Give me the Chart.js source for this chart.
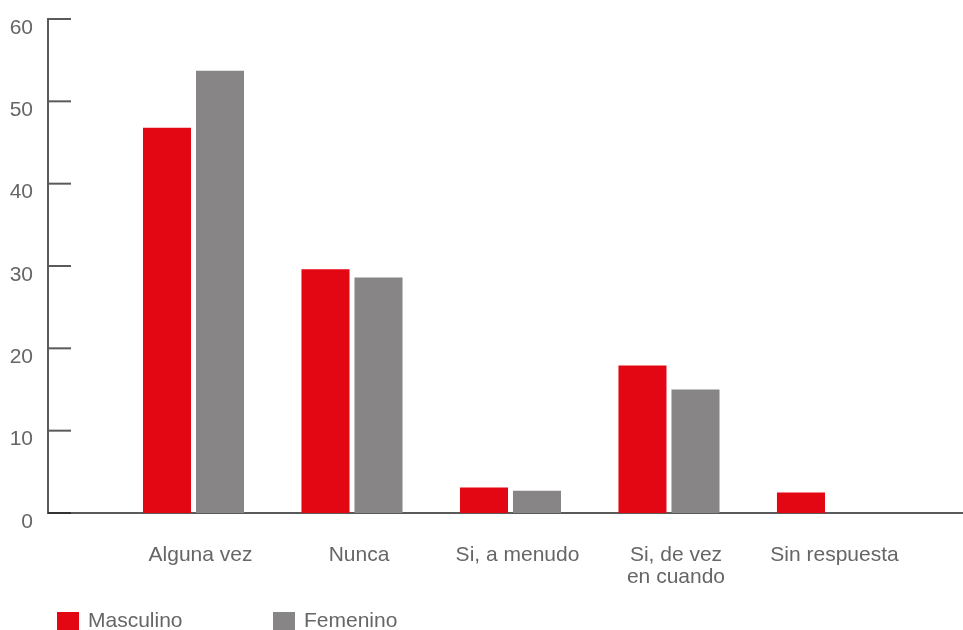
<!DOCTYPE html>
<html>
<head>
<meta charset="utf-8">
<script src="https://cdn.jsdelivr.net/npm/chart.js@4.4.1/dist/chart.umd.min.js"></script>
<style>
  html, body { margin: 0; padding: 0; background: #fff; overflow: hidden; }
  #wrap { position: relative; width: 963px; height: 630px; }
  #legend {
    position: absolute; left: 57px; top: 608px;
    display: flex;
    font: 21px 'Liberation Sans', Arial, sans-serif; color: #666;
  }
  .item { display: flex; align-items: flex-start; width: 216px; line-height: 23px; }
  .box { width: 22px; height: 22px; margin-top: 4px; margin-right: 9px; }
</style>
</head>
<body>
<div id="wrap">
  <canvas id="chart" width="963" height="630"></canvas>
  <div id="legend"></div>
</div>
<script>
  // Data
  const categories = ['Alguna vez', 'Nunca', 'Si, a menudo', ['Si, de vez', 'en cuando'], 'Sin respuesta'];
  const masculino = [46.8, 29.6, 3.1, 17.9, 2.5];
  const femenino = [53.7, 28.6, 2.7, 15.0, 0];
  const yTicks = [0, 10, 20, 30, 40, 50, 60];

  const FONT = "'Liberation Sans', Arial, sans-serif";
  const AXIS = '#5a5a5a';

  // short tick marks drawn inside the plot, off the y axis
  const innerTicks = {
    id: 'innerTicks',
    afterDraw(chart) {
      const { ctx, chartArea, scales: { y } } = chart;
      ctx.save();
      ctx.lineWidth = 2;
      y.ticks.forEach(t => {
        const py = y.getPixelForValue(t.value);
        ctx.strokeStyle = t.value === 0 ? '#333' : AXIS;
        ctx.beginPath();
        ctx.moveTo(chartArea.left, py);
        ctx.lineTo(chartArea.left + 23, py);
        ctx.stroke();
      });
      ctx.restore();
    }
  };

  const chart = new Chart(document.getElementById('chart'), {
    type: 'bar',
    data: {
      datasets: [
        {
          label: 'Masculino',
          data: masculino.map((v, i) => ({ x: i, y: v })),
          backgroundColor: '#e30613'
        },
        {
          label: 'Femenino',
          data: femenino.map((v, i) => ({ x: i, y: v })),
          backgroundColor: '#878586'
        }
      ]
    },
    options: {
      responsive: false,
      animation: false,
      devicePixelRatio: 1,
      categoryPercentage: 0.669,
      barPercentage: 0.906,
      layout: { padding: { top: 19, right: 0, left: 0, bottom: 0 } },
      scales: {
        x: {
          type: 'linear',
          offset: false,
          min: -0.918,
          max: 4.855,
          grid: { display: false, drawTicks: false, offset: false },
          border: { display: true, color: AXIS, width: 2 },
          afterFit: s => { s.height = 117; s.paddingLeft = 0; s.paddingRight = 0; },
          ticks: {
            stepSize: 1,
            includeBounds: false,
            autoSkip: false,
            maxRotation: 0,
            padding: 31,
            labelOffset: 7,
            color: '#666',
            font: { family: FONT, size: 21, lineHeight: 1.05 },
            callback: v => (Number.isInteger(v) && categories[v] !== undefined) ? categories[v] : ''
          }
        },
        y: {
          min: 0,
          max: 60,
          grid: { display: false, drawTicks: false },
          border: { display: true, color: AXIS, width: 2 },
          afterFit: s => { s.width = 48; s.paddingTop = 0; s.paddingBottom = 0; },
          afterBuildTicks: s => { s.ticks = yTicks.map(v => ({ value: v })); },
          ticks: {
            padding: 15,
            labelOffset: 9,
            color: '#666',
            font: { family: FONT, size: 21 }
          }
        }
      },
      plugins: {
        legend: { display: false },
        tooltip: { enabled: false }
      }
    },
    plugins: [innerTicks]
  });

  // HTML legend from the datasets
  const legend = document.getElementById('legend');
  chart.data.datasets.forEach(ds => {
    const item = document.createElement('div');
    item.className = 'item';
    const box = document.createElement('span');
    box.className = 'box';
    box.style.background = ds.backgroundColor;
    const txt = document.createElement('span');
    txt.textContent = ds.label;
    item.appendChild(box);
    item.appendChild(txt);
    legend.appendChild(item);
  });
</script>
</body>
</html>
